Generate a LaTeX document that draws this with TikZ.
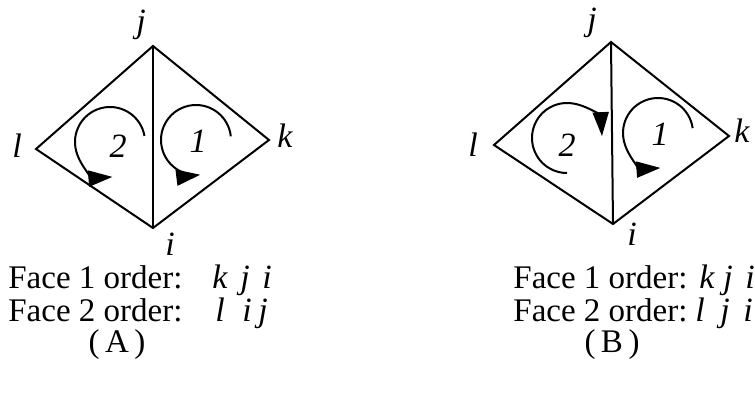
\documentclass[tikz,border=0pt]{standalone}
\usepackage{fontspec}
\setmainfont{Liberation Serif}
\usetikzlibrary{arrows.meta}

\tikzset{
  edge/.style={line width=1pt, line join=miter},
  vlabel/.style={anchor=base, inner sep=0pt, text depth=0pt, font=\fontsize{17}{20}\selectfont\itshape},
  facearrow/.style={line width=1pt, -{Triangle[length=12pt,width=8pt]}},
  caption/.style={anchor=base west, inner sep=0pt, font=\fontsize{16.5}{20}\selectfont},
}

\begin{document}
\begin{tikzpicture}[x=0.5pt,y=0.5pt]
  \useasboundingbox (0,0) rectangle (755,392);

  % (A)
  \coordinate (Aj) at (153,346);
  \coordinate (Ai) at (153,164);
  \coordinate (Al) at (36,243);
  \coordinate (Ak) at (269,252);
  \draw[edge] (Al) -- (Aj) -- (Ak) -- (Ai) -- cycle;
  \draw[edge] (Aj) -- (Ai);
  \node[vlabel] (Ajl) at (141,359) {j};
  \node[vlabel] (All) at (17,235) {l};
  \node[vlabel] (Akl) at (285,245) {k};
  \node[vlabel] (Ail) at (170,137) {i};
  \coordinate (Ac2) at (110,250);
  \coordinate (Ac1) at (196,252);
  \draw[facearrow] ([shift={(10:17.5pt)}]Ac2) arc[start angle=10, end angle=274, radius=17.5pt];
  \draw[facearrow] ([shift={(6:17.5pt)}]Ac1) arc[start angle=6, end angle=277, radius=17.5pt];
  \node[vlabel] (An2) at (118,235) {2};
  \node[vlabel] (An1) at (198,240) {1};
  \node[caption] (Af1) at (8,104) {Face 1 order:};
  \node[vlabel] at (220,104) {k};
  \node[vlabel] at (245,104) {j};
  \node[vlabel] at (267,104) {i};
  \node[caption] (Af2) at (8,71) {Face 2 order:};
  \node[vlabel] at (220,71) {l};
  \node[vlabel] at (247,71) {i};
  \node[vlabel] at (263,71) {j};
  \node[caption, anchor=base] (Acap) at (117,40) {(\,A\,)};

  % (B)
  \coordinate (Bj) at (611,350);
  \coordinate (Bi) at (613,168);
  \coordinate (Bl) at (494,247);
  \coordinate (Bk) at (729,256);
  \draw[edge] (Bl) -- (Bj) -- (Bk) -- (Bi) -- cycle;
  \draw[edge] (Bj) -- (Bi);
  \node[vlabel] (Bjl) at (592,362) {j};
  \node[vlabel] (Bll) at (473,236) {l};
  \node[vlabel] (Bkl) at (742,250) {k};
  \node[vlabel] (Bil) at (632,147) {i};
  \coordinate (Bc2) at (567,254);
  \coordinate (Bc1) at (658,259);
  \draw[facearrow] ([shift={(-90:17.5pt)}]Bc2) arc[start angle=-90, end angle=-357, radius=17.5pt];
  \draw[facearrow] ([shift={(8:17.5pt)}]Bc1) arc[start angle=8, end angle=274, radius=17.5pt];
  \node[vlabel] (Bn2) at (567,236) {2};
  \node[vlabel] (Bn1) at (660,247) {1};
  \node[caption] (Bf1) at (513,104) {Face 1 order:};
  \node[vlabel] at (707,104) {k};
  \node[vlabel] at (728,104) {j};
  \node[vlabel] at (750,104) {i};
  \node[caption] (Bf2) at (513,71) {Face 2 order:};
  \node[vlabel] at (700,71) {l};
  \node[vlabel] at (725,71) {j};
  \node[vlabel] at (748,71) {i};
  \node[caption, anchor=base] (Bcap) at (612,40) {(\,B\,)};
\end{tikzpicture}
\end{document}
